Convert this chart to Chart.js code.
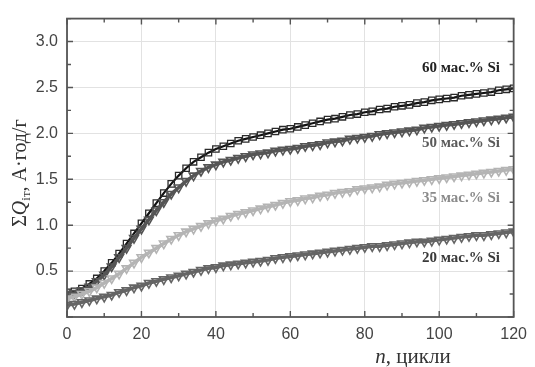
<!DOCTYPE html>
<html>
<head>
<meta charset="utf-8">
<script src="https://cdn.jsdelivr.net/npm/chart.js@4/dist/chart.umd.min.js"></script>
<style>
  html, body { margin: 0; padding: 0; background: #fff; }
  #wrap { width: 535px; height: 367px; }
</style>
</head>
<body>
<div id="wrap"><canvas id="c" width="535" height="367"></canvas></div>
<script>
// Cycle numbers (every second cycle)
const cycles = [0,2,4,6,8,10,12,14,16,18,20,22,24,26,28,30,32,34,36,38,40,42,44,46,48,50,52,54,56,58,60,62,64,66,68,70,72,74,76,78,80,82,84,86,88,90,92,94,96,98,100,102,104,106,108,110,112,114,116,118,120];

// Cumulative inserted charge, A·h/g
const si60 = [0.27,0.28,0.31,0.36,0.42,0.50,0.59,0.69,0.80,0.91,1.02,1.13,1.24,1.35,1.45,1.54,1.62,1.69,1.74,1.79,1.83,1.86,1.89,1.92,1.94,1.96,1.98,2.00,2.02,2.04,2.05,2.07,2.09,2.11,2.13,2.15,2.16,2.18,2.20,2.21,2.23,2.24,2.26,2.27,2.29,2.30,2.31,2.33,2.34,2.36,2.37,2.38,2.39,2.41,2.42,2.43,2.44,2.45,2.47,2.48,2.49];
const si50 = [0.25,0.26,0.29,0.33,0.39,0.46,0.55,0.65,0.75,0.86,0.96,1.06,1.16,1.25,1.34,1.41,1.48,1.54,1.59,1.63,1.66,1.69,1.71,1.73,1.75,1.77,1.78,1.79,1.81,1.82,1.83,1.84,1.86,1.87,1.88,1.90,1.91,1.92,1.94,1.95,1.96,1.97,1.99,2.00,2.01,2.02,2.03,2.04,2.06,2.07,2.08,2.09,2.10,2.11,2.12,2.13,2.14,2.15,2.16,2.17,2.18];
const si35 = [0.20,0.22,0.25,0.28,0.32,0.37,0.42,0.47,0.53,0.59,0.65,0.70,0.75,0.80,0.85,0.89,0.93,0.96,0.99,1.02,1.05,1.07,1.10,1.12,1.14,1.16,1.18,1.20,1.22,1.24,1.26,1.27,1.29,1.30,1.32,1.33,1.35,1.36,1.37,1.39,1.40,1.41,1.42,1.44,1.45,1.46,1.47,1.48,1.49,1.50,1.51,1.52,1.53,1.54,1.55,1.56,1.57,1.58,1.59,1.60,1.61];
const si20 = [0.13,0.14,0.16,0.18,0.20,0.22,0.24,0.27,0.29,0.32,0.34,0.37,0.39,0.41,0.43,0.45,0.47,0.49,0.51,0.53,0.54,0.56,0.57,0.58,0.59,0.60,0.61,0.62,0.64,0.65,0.66,0.67,0.68,0.69,0.70,0.71,0.72,0.73,0.74,0.75,0.76,0.77,0.77,0.78,0.79,0.80,0.81,0.82,0.82,0.83,0.84,0.85,0.86,0.87,0.88,0.89,0.89,0.90,0.91,0.92,0.93];

const seriesLabels = ['60 мас.% Si', '50 мас.% Si', '35 мас.% Si', '20 мас.% Si'];
const xTicks = [0, 20, 40, 60, 80, 100, 120];
const yTicks = [0.5, 1.0, 1.5, 2.0, 2.5, 3.0];

const pts = arr => arr.map((v, i) => ({ x: cycles[i], y: v }));

// Frame, inward major/minor ticks, series captions and axis titles
const decor = {
  id: 'decor',
  afterDatasetsDraw(chart) {
    const { ctx, chartArea: a, scales: { x, y } } = chart;
    ctx.save();
    ctx.strokeStyle = '#555';
    ctx.lineWidth = 1.8;
    ctx.strokeRect(a.left, a.top, a.right - a.left, a.bottom - a.top);
    ctx.lineWidth = 1.4;
    ctx.beginPath();
    for (let n = 0; n <= 120; n += 10) {
      const px = x.getPixelForValue(n);
      const len = n % 20 === 0 ? 6 : 4;
      ctx.moveTo(px, a.bottom); ctx.lineTo(px, a.bottom - len);
      ctx.moveTo(px, a.top); ctx.lineTo(px, a.top + len);
    }
    for (let v = 0; v <= 3.25; v += 0.25) {
      const py = y.getPixelForValue(v);
      const len = Math.round(v * 100) % 50 === 0 ? 6 : 4;
      ctx.moveTo(a.left, py); ctx.lineTo(a.left + len, py);
      ctx.moveTo(a.right, py); ctx.lineTo(a.right - len, py);
    }
    ctx.stroke();

    // captions for the curves
    ctx.font = 'bold 15px "Liberation Serif", "Times New Roman", serif';
    ctx.textAlign = 'right';
    ctx.textBaseline = 'middle';
    const capColors = ['#222', '#5a5a5a', '#8a8a8a', '#3a3a3a'];
    const capY = [68, 143, 198, 258];
    seriesLabels.forEach((t, i) => {
      ctx.fillStyle = capColors[i];
      ctx.fillText(t, 500, capY[i]);
    });

    // x axis title: "n, цикли"
    ctx.fillStyle = '#333';
    ctx.textBaseline = 'alphabetic';
    ctx.textAlign = 'left';
    const fIt = 'italic 21px "Liberation Serif", "Times New Roman", serif';
    const fRm = '21px "Liberation Serif", "Times New Roman", serif';
    ctx.font = fIt; const w1 = ctx.measureText('n').width;
    ctx.font = fRm; const w2 = ctx.measureText(', цикли').width;
    let sx = 413 - (w1 + w2) / 2;
    ctx.font = fIt; ctx.fillText('n', sx, 363);
    ctx.font = fRm; ctx.fillText(', цикли', sx + w1, 363);

    // y axis title: "ΣQ_іт, А·год/г"
    ctx.translate(26, 173);
    ctx.rotate(-Math.PI / 2);
    const parts = [
      ['Σ', '20px "Liberation Serif", serif', 0],
      ['Q', 'italic 20px "Liberation Serif", serif', 0],
      ['іт', '13px "Liberation Serif", serif', 4],
      [', А·год/г', '20px "Liberation Serif", serif', 0]
    ];
    let total = 0;
    parts.forEach(p => { ctx.font = p[1]; p.push(ctx.measureText(p[0]).width); total += p[3]; });
    let cx = -total / 2;
    parts.forEach(p => { ctx.font = p[1]; ctx.fillText(p[0], cx, p[2]); cx += p[3]; });
    ctx.restore();
  }
};

const tickFont = { family: '"Liberation Sans", Arial, sans-serif', size: 16 };

const triSeries = (label, values, color) => ({
  label, data: pts(values), showLine: true,
  borderColor: color, borderWidth: 3.5,
  pointStyle: 'triangle', rotation: 180, pointRadius: 5,
  pointBorderColor: color, pointBackgroundColor: 'rgba(0,0,0,0)', pointBorderWidth: 1.6
});

new Chart(document.getElementById('c'), {
  type: 'scatter',
  data: {
    datasets: [
      triSeries(seriesLabels[3], si20, '#656565'),
      triSeries(seriesLabels[2], si35, '#b4b4b4'),
      triSeries(seriesLabels[1], si50, '#555555'),
      {
        label: seriesLabels[0], data: pts(si60), showLine: true,
        borderColor: '#111', borderWidth: 2.2,
        pointStyle: 'rect', pointRadius: 4.5,
        pointBorderColor: '#2a2a2a', pointBackgroundColor: 'rgba(0,0,0,0)', pointBorderWidth: 1.3
      }
    ]
  },
  options: {
    responsive: false,
    animation: false,
    layout: { padding: { left: 0, top: 14, right: 14, bottom: 0 } },
    plugins: { legend: { display: false }, tooltip: { enabled: false } },
    scales: {
      x: {
        type: 'linear', min: 0, max: 120,
        afterFit: s => { s.height = 50; },
        afterBuildTicks: s => { s.ticks = xTicks.map(v => ({ value: v })); },
        grid: { color: '#e2e2e2', lineWidth: 1, drawTicks: false },
        border: { display: false },
        ticks: { color: '#444', font: tickFont, padding: 8, maxRotation: 0 }
      },
      y: {
        type: 'linear', min: 0, max: 3.25,
        afterFit: s => { s.width = 67; },
        afterBuildTicks: s => { s.ticks = yTicks.map(v => ({ value: v })); },
        grid: { color: '#e2e2e2', lineWidth: 1, drawTicks: false },
        border: { display: false },
        ticks: { color: '#444', font: tickFont, padding: 9, callback: v => v.toFixed(1) }
      }
    }
  },
  plugins: [decor]
});
</script>
</body>
</html>
